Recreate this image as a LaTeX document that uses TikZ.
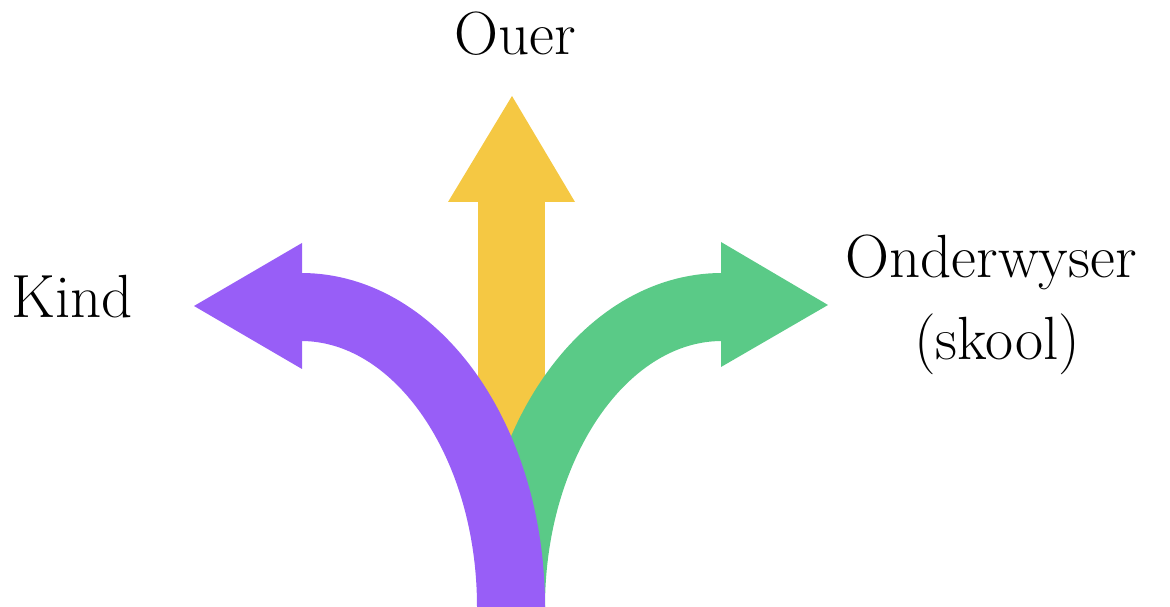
\documentclass[tikz,border=0pt]{standalone}
\definecolor{ayellow}{RGB}{245,200,67}
\definecolor{apurple}{RGB}{152,94,247}
\definecolor{agreen}{RGB}{90,202,135}
\tikzset{
  lbl/.style={font=\fontsize{61}{82}\selectfont, inner sep=0pt, text=black},
  shaft/.style={line width=68pt, line cap=butt},
}
\begin{document}
\begin{tikzpicture}[x=1pt,y=1pt]
\useasboundingbox (0,0) rectangle (1170,607);
% yellow arrow (Ouer)
\draw[shaft, ayellow, line width=67pt] (511.5,127) -- (511.5,406);
\fill[ayellow] (448,405) -- (512,511) -- (575,405) -- cycle;
% green arrow (Onderwyser)
\draw[shaft, agreen] (511,0) arc[start angle=180, end angle=90, x radius=211, y radius=300];
\fill[agreen] (721,365) -- (828,302) -- (721,240) -- cycle;
% purple arrow (Kind)
\draw[shaft, apurple] (511,0) arc[start angle=0, end angle=90, x radius=210, y radius=300];
\fill[apurple] (302,364) -- (194,301) -- (302,238) -- cycle;
% labels
\node[lbl, anchor=base] (ouer) at (515,552) {Ouer};
\node[lbl, anchor=base west] (kind) at (11,289) {Kind};
\node[lbl, anchor=base] (onder) at (991,329) {Onderwyser};
\node[lbl, anchor=base] (skool) at (997,247) {(skool)};
\end{tikzpicture}
\end{document}
